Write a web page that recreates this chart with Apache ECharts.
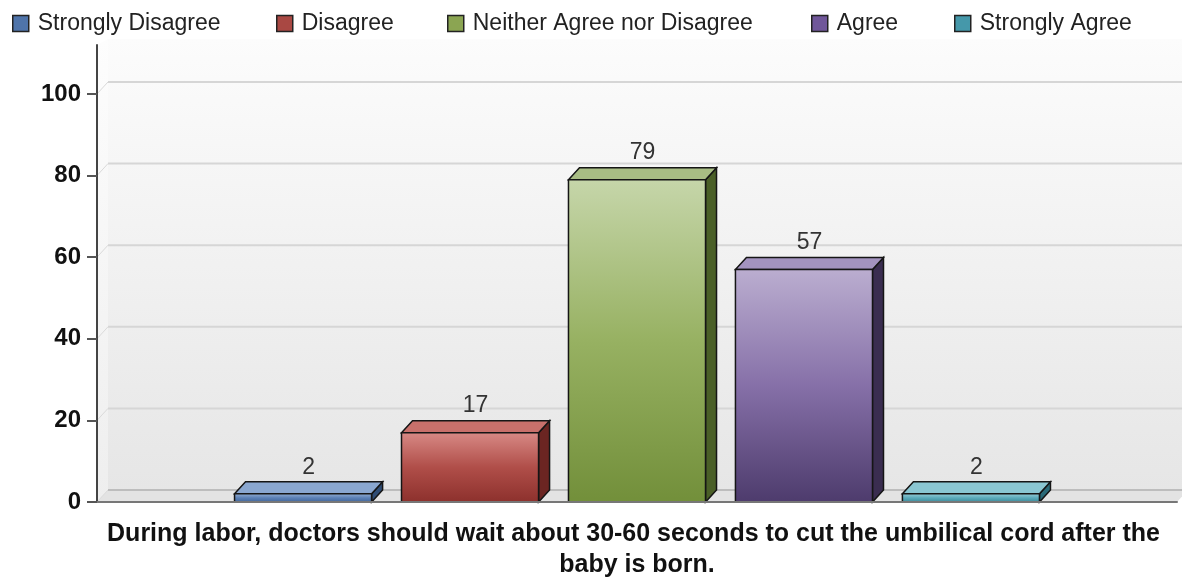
<!DOCTYPE html>
<html>
<head>
<meta charset="utf-8">
<script src="https://cdn.jsdelivr.net/npm/echarts@6/dist/echarts.min.js"></script>
<style>html,body{margin:0;padding:0;background:#fff}#c{width:1182px;height:579px}</style>
</head>
<body>
<div id="c"></div>
<script>
// ---- data ----
const categories = ['During labor, doctors should wait about 30-60 seconds to cut the umbilical cord after the baby is born.'];
const seriesNames = ['Strongly Disagree', 'Disagree', 'Neither Agree nor Disagree', 'Agree', 'Strongly Agree'];
const seriesValues = [2, 17, 79, 57, 2];
const yTicks = [0, 20, 40, 60, 80, 100];

// ---- styles ----
const FONT = "'Liberation Sans', Arial, sans-serif";
const legendColors = ['#4f74aa', '#a94843', '#8ba552', '#70579a', '#4598aa'];
const frontGrad = [
  ['#9ab3d6', '#5b80b5', '#3f6396'],
  ['#d88a86', '#b04e49', '#8c302c'],
  ['#c6d6aa', '#97b162', '#728f3a'],
  ['#bbaed0', '#8670a8', '#4d3b6c'],
  ['#9fd0da', '#5aaaba', '#3a8595']
];
const topColors = ['#8aa7d0', '#c8706b', '#a8bd84', '#a393bf', '#8ac6d2'];
const sideColors = ['#2f4c74', '#6b2522', '#4a5f27', '#3a2d50', '#2a6a78'];
const legendLefts = [12, 276, 447, 811, 954];
const DX = 11, DY = 12;
const STEP = 0.1546, BARW = 0.1269;

const chart = echarts.init(document.getElementById('c'), null, {renderer: 'canvas'});

const bgSeries = {
  type: 'custom',
  name: '__bg',
  z: 1,
  silent: true,
  data: [[0, 0]],
  renderItem: function (params, api) {
    const cs = params.coordSys;
    const gx = cs.x, gy = cs.y, gr = cs.x + cs.width, gb = cs.y + cs.height;
    const children = [];
    children.push({type: 'rect', shape: {x: gx + DX, y: gy - DY + 6, width: gr - gx, height: gb - gy - 6},
      style: {fill: new echarts.graphic.LinearGradient(0, 0, 0, 1, [{offset: 0, color: '#fcfcfc'}, {offset: 1, color: '#e6e6e6'}])}});
    children.push({type: 'polygon', shape: {points: [[gx, gy], [gx + DX, gy - DY + 6], [gx + DX, gb - DY], [gx, gb]]},
      style: {fill: new echarts.graphic.LinearGradient(0, 0, 0, 1, [{offset: 0, color: '#fdfdfd'}, {offset: 1, color: '#eeeeee'}])}});
    children.push({type: 'polygon', shape: {points: [[gx, gb], [gx + DX, gb - DY], [gr + DX, gb - DY], [gr, gb]]},
      style: {fill: '#e3e3e3'}});
    yTicks.forEach(function (t) {
      const p = api.coord([0, t]);
      const y = p[1];
      children.push({type: 'line', shape: {x1: gx + DX, y1: y - DY, x2: gr + DX, y2: y - DY},
        style: {stroke: t === 0 ? '#bdbdbd' : '#d6d6d6', lineWidth: 2}});
      children.push({type: 'line', shape: {x1: gx, y1: y, x2: gx + DX, y2: y - DY},
        style: {stroke: '#dadada', lineWidth: 1}});
    });
    return {type: 'group', children: children};
  }
};

function barSeries(i) {
  return {
    type: 'custom',
    name: seriesNames[i],
    z: 3,
    itemStyle: {color: legendColors[i]},
    data: [[0, seriesValues[i]]],
    renderItem: function (params, api) {
      const band = api.size([1, 0])[0];
      const base = api.coord([0, 0]);
      const top = api.coord([0, api.value(1)]);
      const cx = base[0] + (i - 2) * band * STEP;
      const w = band * BARW;
      const x0 = cx - w / 2, x1 = cx + w / 2, y0 = top[1], yb = base[1];
      const g = frontGrad[i];
      return {
        type: 'group',
        children: [
          {type: 'polygon', shape: {points: [[x1, y0], [x1 + DX, y0 - DY], [x1 + DX, yb - DY], [x1, yb]]},
            style: {fill: sideColors[i], stroke: '#151515', lineWidth: 1.5}},
          {type: 'polygon', shape: {points: [[x0, y0], [x0 + DX, y0 - DY], [x1 + DX, y0 - DY], [x1, y0]]},
            style: {fill: topColors[i], stroke: '#151515', lineWidth: 1.5}},
          {type: 'rect', shape: {x: x0, y: y0, width: w, height: yb - y0},
            style: {fill: new echarts.graphic.LinearGradient(0, 0, 0, 1, [
              {offset: 0, color: g[0]}, {offset: 0.5, color: g[1]}, {offset: 1, color: g[2]}]),
              stroke: '#151515', lineWidth: 1.5}},
          {type: 'text', x: cx + DX / 2, y: y0 - DY - 3,
            style: {text: String(api.value(1)), fill: '#333', font: '23px ' + FONT, align: 'center', verticalAlign: 'bottom'}}
        ]
      };
    }
  };
}

const option = {
  animation: false,
  backgroundColor: '#ffffff',
  textStyle: {fontFamily: FONT},
  legend: seriesNames.map(function (n, i) {
    return {
      data: [n], left: legendLefts[i], top: 12, icon: 'rect', itemWidth: 16, itemHeight: 16,
      selectedMode: false, padding: 0,
      itemStyle: {borderColor: '#222', borderWidth: 1.5},
      textStyle: {fontSize: 23, color: '#222', fontFamily: FONT, padding: [0, 0, 0, 4]}
    };
  }),
  grid: {left: 97, right: 5, top: 45, bottom: 77, outerBoundsMode: 'none', containLabel: false},
  xAxis: {
    type: 'category',
    data: categories,
    z: 5,
    axisLine: {lineStyle: {color: '#777', width: 2}},
    axisTick: {alignWithLabel: true, length: 10, lineStyle: {color: '#555', width: 2}},
    axisLabel: {interval: 0, width: 1075, overflow: 'break', fontWeight: 'bold', fontSize: 25,
      lineHeight: 31, color: '#111', margin: 17, fontFamily: FONT}
  },
  yAxis: {
    type: 'value',
    min: 0, max: 112, interval: 20,
    z: 5,
    axisLine: {show: true, lineStyle: {color: '#444', width: 2}},
    axisTick: {show: true, length: 10, lineStyle: {color: '#555', width: 2}, customValues: yTicks},
    axisLabel: {customValues: yTicks, fontWeight: 'bold', fontSize: 24, color: '#111', margin: 16, fontFamily: FONT,
      formatter: function (v) { return v > 100 ? '' : String(v); }},
    splitLine: {show: false}
  },
  series: [bgSeries].concat(seriesNames.map(function (n, i) { return barSeries(i); }))
};
chart.setOption(option);
</script>
</body>
</html>
